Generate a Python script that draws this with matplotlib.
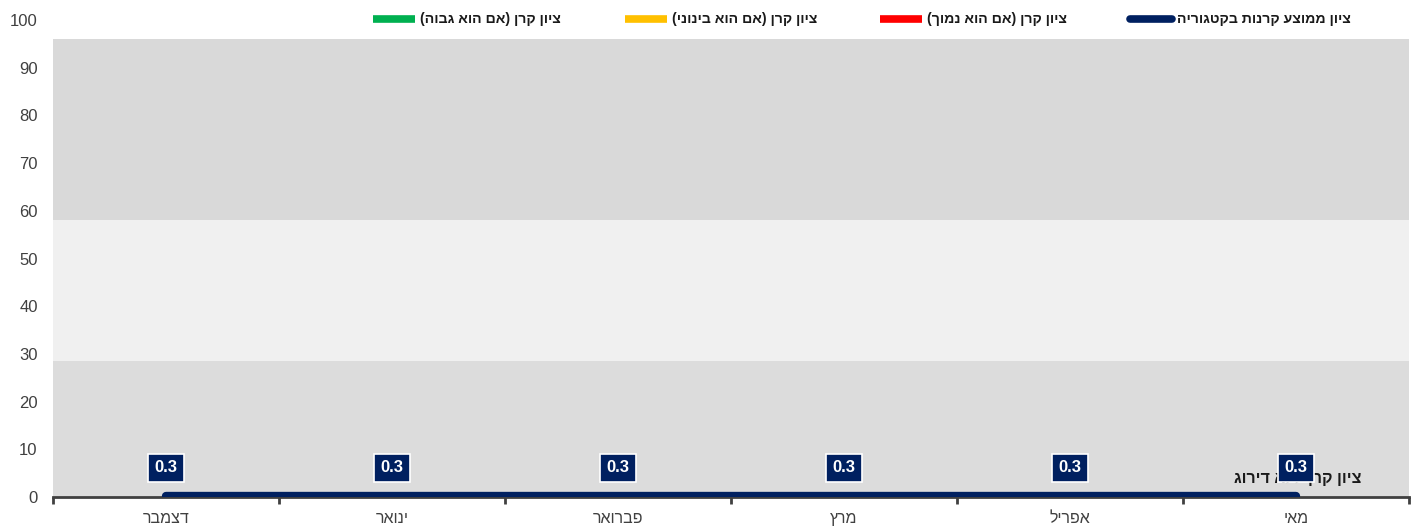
import matplotlib.pyplot as plt
from matplotlib.lines import Line2D
import numpy as np

plt.rcParams['font.family'] = ['Liberation Sans', 'DejaVu Sans']


def rtl(s):
    # matplotlib has no bidi support: reverse and mirror brackets
    s = s[::-1]
    return s.translate(str.maketrans('()', ')('))


months = ['דצמבר', 'ינואר', 'פברואר', 'מרץ', 'אפריל', 'מאי']
avg_score = [0.3, 0.3, 0.3, 0.3, 0.3, 0.3]
band_edges = [0, 28.5, 58, 96]
band_colors = ['#dcdcdc', '#f0f0f0', '#d9d9d9']
legend_labels = ['ציון קרן (אם הוא גבוה)', 'ציון קרן (אם הוא בינוני)',
                 'ציון קרן (אם הוא נמוך)', 'ציון ממוצע קרנות בקטגוריה']
legend_colors = ['#00b050', '#ffc000', '#ff0000', '#002060']
unrated_text = 'ציון קרן ללא דירוג'

fig = plt.figure(figsize=(14.19, 5.28), dpi=100)
ax = fig.add_axes([0.0373, 0.0587, 0.9557, 0.9033])

for i in range(len(band_colors)):
    ax.axhspan(band_edges[i], band_edges[i + 1], color=band_colors[i], lw=0, zorder=0)

x = np.arange(len(months))
ax.plot(x, avg_score, color='#002060', lw=6, solid_capstyle='round', zorder=3)

for xi, v in zip(x, avg_score):
    ax.annotate(f'{v:.1f}', (xi, v), xytext=(0, 20), textcoords='offset points',
                ha='center', va='center', color='white', fontsize=12, fontweight='bold',
                bbox=dict(boxstyle='square,pad=0.4', fc='#002060', ec='white', lw=1.2),
                zorder=6)

ax.text(1362 / 1419, 1 - 478 / 528, rtl(unrated_text), transform=fig.transFigure,
        ha='right', va='center', fontsize=11.5, fontweight='bold', color='#1a1a1a', zorder=5)

ax.set_xlim(-0.5, len(months) - 0.5)
ax.set_ylim(0, 100)
ax.set_yticks(np.arange(0, 101, 10))
ax.set_xticks(x)
ax.set_xticklabels([rtl(m) for m in months])
ax.set_xticks(np.arange(-0.5, len(months), 1), minor=True)
ax.tick_params(axis='x', which='major', length=0, pad=10, labelsize=11.5, labelcolor='#404040')
ax.tick_params(axis='x', which='minor', length=5, width=2, color='#404040', direction='out')
ax.tick_params(axis='y', length=0, pad=11, labelsize=12, labelcolor='#404040')
for s in ['top', 'right', 'left']:
    ax.spines[s].set_visible(False)
ax.spines['bottom'].set_color('#404040')
ax.spines['bottom'].set_linewidth(2)
ax.set_facecolor('white')

# legend across the top
leg_x = [373, 625, 880, 1130]
for lx, lab, col in zip(leg_x, legend_labels, legend_colors):
    yy = 1 - 19 / 528
    fig.add_artist(Line2D([lx / 1419, (lx + 42) / 1419], [yy, yy], color=col, lw=5.5,
                          solid_capstyle='round' if col == '#002060' else 'butt'))
    fig.text((lx + 47) / 1419, yy, rtl(lab), ha='left', va='center',
             fontsize=10.2, fontweight='bold', color='#1a1a1a')

fig.savefig('out.png', dpi=100)
